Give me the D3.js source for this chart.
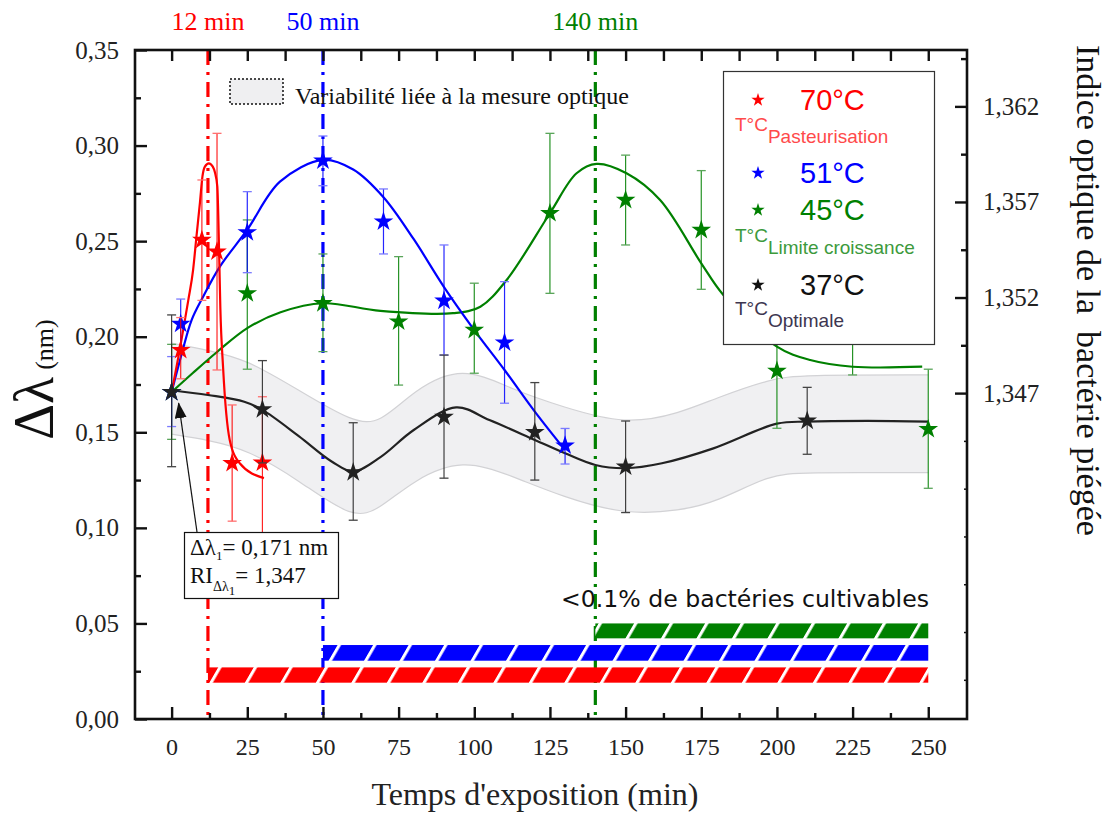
<!DOCTYPE html>
<html><head><meta charset="utf-8">
<script src="https://cdn.jsdelivr.net/npm/d3@7"></script>
<style>body{margin:0;background:#fff}svg{display:block}</style>
</head><body>
<svg id="c" width="1108" height="816"></svg>
<script>
// ---------- DATA ----------
// 37°C (optimal)
const t37  = [0, 30, 60, 90, 120, 150, 210];
const v37  = [0.171, 0.162, 0.129, 0.158, 0.150, 0.132, 0.156];
const lo37 = [0.132, 0.134, 0.104, 0.126, 0.125, 0.108, 0.1385];
const hi37 = [0.2114, 0.1875, 0.155, 0.1904, 0.176, 0.1559, 0.1735];
const fitT37 = [0, 12, 24, 30, 42, 53, 60, 69, 80, 94, 105, 120, 130, 140, 150, 162, 179, 200, 210, 230, 250];
const fitV37 = [0.172, 0.1695, 0.166, 0.1617, 0.148, 0.1346, 0.1295, 0.137, 0.1512, 0.163, 0.1564, 0.146, 0.139, 0.1329, 0.1312, 0.1338, 0.1416, 0.1545, 0.1556, 0.156, 0.1556];
// variability band (optical measurement)
const bandT  = [0, 12, 25, 42, 60, 69, 80, 96, 113, 129, 150, 168, 180, 198, 208, 250];
const bandHi = [0.1966, 0.193, 0.188, 0.172, 0.155, 0.1547, 0.172, 0.1852, 0.172, 0.1634, 0.1538, 0.160, 0.168, 0.178, 0.180, 0.180];
const bandLo = [0.149, 0.146, 0.141, 0.125, 0.1041, 0.1102, 0.125, 0.1364, 0.1268, 0.1163, 0.1067, 0.109, 0.1135, 0.1280, 0.1289, 0.1289];
// 70°C (pasteurisation)
const t70  = [3, 10, 15, 20, 30];
const v70  = [0.193, 0.2506, 0.2445, 0.1338, 0.1341];
const lo70 = [0.178, 0.219, 0.1826, 0.1035, 0.075];
const hi70 = [0.210, 0.282, 0.3064, 0.1643, 0.1686];
const fitT70 = [0, 3, 5.5, 7.1, 8.2, 9.35, 10.2, 11, 12.3, 13.6, 14.3, 15.1, 15.7, 16.1, 17, 19.2, 22.5, 30.5];
const fitV70 = [0.171, 0.196, 0.219, 0.235, 0.2523, 0.270, 0.284, 0.289, 0.2907, 0.289, 0.286, 0.2785, 0.2436, 0.215, 0.184, 0.146, 0.1338, 0.126];
// 51°C
const t51  = [0, 3, 25, 50, 70, 90, 110, 130];
const v51  = [0.171, 0.2067, 0.2546, 0.2921, 0.2602, 0.2188, 0.1969, 0.143];
const lo51 = [0.153, 0.194, 0.2335, 0.279, 0.2433, 0.1904, 0.1652, 0.1334];
const hi51 = [0.1896, 0.2197, 0.2759, 0.305, 0.2773, 0.248, 0.2288, 0.152];
const fitT51 = [0, 3.5, 6.6, 10.4, 16, 25, 35.8, 50, 60, 70, 80, 90, 100, 110, 120, 130];
const fitV51 = [0.171, 0.192, 0.2087, 0.2209, 0.2368, 0.256, 0.2811, 0.2925, 0.2875, 0.273, 0.251, 0.226, 0.2035, 0.1826, 0.1608, 0.1407];
// 45°C (growth limit)
const t45  = [0, 25, 50, 75, 100, 125, 150, 175, 200, 225, 250];
const v45  = [0.171, 0.2227, 0.2175, 0.2079, 0.2035, 0.2646, 0.2715, 0.2558, 0.1821, 0.21, 0.1516];
const lo45 = [0.1463, 0.183, 0.1922, 0.1747, 0.1809, 0.2227, 0.248, 0.2248, 0.1521, 0.18, 0.1207];
const hi45 = [0.196, 0.2611, 0.2433, 0.2419, 0.228, 0.3064, 0.295, 0.2869, 0.212, 0.24, 0.183];
const fitT45 = [0, 7, 15, 25, 36, 50, 69, 93, 102, 110.7, 125, 133.8, 140.4, 150.3, 161.4, 175, 182.3, 200, 211, 225, 248];
const fitV45 = [0.171, 0.181, 0.192, 0.2045, 0.2128, 0.2175, 0.2135, 0.2123, 0.2157, 0.2297, 0.2646, 0.2855, 0.2904, 0.2855, 0.2715, 0.2384, 0.2218, 0.1948, 0.1878, 0.1843, 0.1843];
// threshold times and "<0.1% cultivable" bars
const markTimes  = [12, 50, 140];
const markLabels = ["12 min", "50 min", "140 min"];
const barStart = [12, 50, 140];
const barEnd   = 250;
const barLow   = [0.019, 0.0305, 0.0422];
const barHigh  = [0.027, 0.0387, 0.050];
// axes
const xMajor = [0, 25, 50, 75, 100, 125, 150, 175, 200, 225, 250];
const xMinor = [12.5, 37.5, 62.5, 87.5, 112.5, 137.5, 162.5, 187.5, 212.5, 237.5];
const yMajor = [0, 0.05, 0.10, 0.15, 0.20, 0.25, 0.30, 0.35];
const yMinor = [0.025, 0.075, 0.125, 0.175, 0.225, 0.275, 0.325];
const riMajor = [1.347, 1.352, 1.357, 1.362];
const riMinor = [1.3495, 1.3545, 1.3595, 1.3645];
const riTiny  = [1.332, 1.3345, 1.337, 1.3395, 1.342, 1.3445];
const RI_REF = 1.347, DL_REF = 0.1705, RI_SLOPE = 0.1;
const annotDl = 0.171;

// ---------- SCALES ----------
const svg = d3.select("#c");
const L = 135, R = 967, T = 50, B = 719;
const x = d3.scaleLinear().domain([-12.1, 262.8]).range([L, R]);
const y = d3.scaleLinear().domain([0, 0.35]).range([B, T]);
const ri = d3.scaleLinear()
  .domain([RI_REF - DL_REF * RI_SLOPE, RI_REF + (0.35 - DL_REF) * RI_SLOPE])
  .range([B, T]);

const SERIF = "'Liberation Serif','Times New Roman',serif";
const SANS = "'Liberation Sans',Arial,sans-serif";
const C = {red: "#ff0000", blue: "#0000ff", green: "#008000", black: "#222222"};

const defs = svg.append("defs");
[["red", C.red], ["blue", C.blue], ["green", C.green]].forEach(([k, col]) => {
  const p = defs.append("pattern").attr("id", "h-" + k)
    .attr("patternUnits", "userSpaceOnUse").attr("width", 35.5).attr("height", 40)
    .attr("patternTransform", "skewX(-30)");
  p.append("rect").attr("width", 35.5).attr("height", 40).attr("fill", col);
  p.append("rect").attr("width", 3.5).attr("height", 40).attr("fill", "#fff");
});
defs.append("marker").attr("id", "arr").attr("markerUnits", "userSpaceOnUse")
  .attr("markerWidth", 16).attr("markerHeight", 12).attr("refX", 15).attr("refY", 6)
  .attr("orient", "auto")
  .append("path").attr("d", "M0,0 L16,6 L0,12 Z").attr("fill", "#111");

// ---------- BAND ----------
const band = bandT.map((t, i) => ({t, hi: bandHi[i], lo: bandLo[i]}));
const cr = d3.curveCatmullRom.alpha(0.5);
const cb = d3.curveBasis;
svg.append("path").datum(band)
  .attr("d", d3.area().x(d => x(d.t)).y0(d => y(d.lo)).y1(d => y(d.hi)).curve(cb))
  .attr("fill", "#f0f0f2");
["hi", "lo"].forEach(k => svg.append("path").datum(band)
  .attr("d", d3.line().x(d => x(d.t)).y(d => y(d[k])).curve(cb))
  .attr("fill", "none").attr("stroke", "#d2d2d5").attr("stroke-width", 1.2));

// ---------- VERTICAL MARK LINES ----------
const markCol = [C.red, C.blue, C.green];
markTimes.forEach((t, i) => {
  svg.append("line").attr("x1", x(t)).attr("x2", x(t)).attr("y1", T).attr("y2", B)
    .attr("stroke", markCol[i]).attr("stroke-width", 3.2)
    .attr("stroke-dasharray", "15,7,3,7");
  svg.append("text").attr("x", x(t)).attr("y", 30).attr("text-anchor", "middle")
    .attr("font-family", SERIF).attr("font-size", 26).attr("fill", markCol[i])
    .text(markLabels[i]);
});

// ---------- HATCHED BARS ----------
["red", "blue", "green"].forEach((k, i) => {
  svg.append("rect").attr("x", x(barStart[i])).attr("width", x(barEnd) - x(barStart[i]))
    .attr("y", y(barHigh[i])).attr("height", y(barLow[i]) - y(barHigh[i]))
    .attr("fill", `url(#h-${k})`);
});
svg.append("text").attr("x", 561).attr("y", 607)
  .attr("font-family", "'DejaVu Sans',Verdana,sans-serif").attr("font-size", 23.6).attr("fill", "#111")
  .text("<0.1% de bactéries cultivables");

// ---------- FITS ----------
function fit(ts, vs, col, curve) {
  svg.append("path").datum(ts.map((t, i) => [t, vs[i]]))
    .attr("d", d3.line().x(d => x(d[0])).y(d => y(d[1])).curve(curve))
    .attr("fill", "none").attr("stroke", col).attr("stroke-width", 2.2);
}
fit(fitT37, fitV37, C.black, cr);
fit(fitT45, fitV45, C.green, cr);
fit(fitT51, fitV51, C.blue, cr);
fit(fitT70, fitV70, C.red, d3.curveMonotoneX);

// ---------- ERROR BARS & STARS ----------
function series(ts, vs, lo, hi, col, capCol) {
  const g = svg.append("g");
  ts.forEach((t, i) => {
    g.append("line").attr("x1", x(t)).attr("x2", x(t)).attr("y1", y(lo[i])).attr("y2", y(hi[i]))
      .attr("stroke", col).attr("stroke-width", 1.2).attr("opacity", 0.85);
    [lo[i], hi[i]].forEach(v => g.append("line")
      .attr("x1", x(t) - 4.5).attr("x2", x(t) + 4.5).attr("y1", y(v)).attr("y2", y(v))
      .attr("stroke", capCol).attr("stroke-width", 1.3));
  });
  g.selectAll("path.s").data(ts).enter().append("path")
    .attr("d", d3.symbol(d3.symbolStar, 120)())
    .attr("transform", (t, i) => `translate(${x(t)},${y(vs[i])})`)
    .attr("fill", col);
}
series(t45, v45, lo45, hi45, C.green, "#5aa55a");
series(t51, v51, lo51, hi51, C.blue, "#7a7aff");
series(t70, v70, lo70, hi70, C.red, "#ff7070");
series(t37, v37, lo37, hi37, C.black, "#444");

// ---------- LEGEND (variability) ----------
svg.append("rect").attr("x", 230).attr("y", 79).attr("width", 53).attr("height", 25)
  .attr("fill", "#efeff1").attr("stroke", "#111").attr("stroke-width", 1.5).attr("stroke-dasharray", "2,2");
svg.append("text").attr("x", 295).attr("y", 104).attr("font-family", SERIF)
  .attr("font-size", 24).attr("fill", "#111").text("Variabilité liée à la mesure optique");

// ---------- LEGEND (series) ----------
svg.append("rect").attr("x", 723.5).attr("y", 71.5).attr("width", 211).attr("height", 273)
  .attr("fill", "#fff").attr("stroke", "#333").attr("stroke-width", 1.2);
const leg = [
  {col: C.red, sy: 100, lab: "70°C", sub: "Pasteurisation", subCol: "#ff4a4a", tb: 131},
  {col: C.blue, sy: 173, lab: "51°C"},
  {col: C.green, sy: 210, lab: "45°C", sub: "Limite croissance", subCol: "#3c9a3c", tb: 242},
  {col: "#111", sy: 285, lab: "37°C", sub: "Optimale", subCol: "#3d3650", tb: 315}
];
leg.forEach(d => {
  svg.append("path").attr("d", d3.symbol(d3.symbolStar, 55)())
    .attr("transform", `translate(758,${d.sy})`).attr("fill", d.col);
  svg.append("text").attr("x", 800).attr("y", d.sy + 10).attr("font-family", SANS)
    .attr("font-size", 29).attr("fill", d.col).text(d.lab);
  if (d.sub) {
    const tx = svg.append("text").attr("x", 735).attr("y", d.tb).attr("font-family", SANS)
      .attr("font-size", 19).attr("fill", d.subCol);
    tx.append("tspan").text("T°C");
    tx.append("tspan").attr("dy", 12).text(d.sub);
  }
});

// ---------- ANNOTATION ----------
svg.append("line").attr("x1", 197).attr("y1", 532).attr("x2", x(0) + 7).attr("y2", y(annotDl) + 11)
  .attr("stroke", "#111").attr("stroke-width", 1.2).attr("marker-end", "url(#arr)");
svg.append("rect").attr("x", 184.5).attr("y", 532.5).attr("width", 154).attr("height", 66)
  .attr("fill", "#fff").attr("stroke", "#111").attr("stroke-width", 1.2);
const a1 = svg.append("text").attr("x", 190).attr("y", 555).attr("font-family", SERIF)
  .attr("font-size", 23).attr("fill", "#111");
a1.append("tspan").text("Δλ");
a1.append("tspan").attr("font-size", 13).attr("dy", 5).text("1");
a1.append("tspan").attr("dy", -5).text("= 0,171 nm");
const a2 = svg.append("text").attr("x", 190).attr("y", 583).attr("font-family", SERIF)
  .attr("font-size", 23).attr("fill", "#111");
a2.append("tspan").text("RI");
a2.append("tspan").attr("font-size", 14).attr("dy", 8).text("Δλ");
a2.append("tspan").attr("font-size", 13).attr("dy", 4).text("1");
a2.append("tspan").attr("dy", -12).text("= 1,347");

// ---------- AXES ----------
const comma = f => v => f(v).replace(".", ",");
function styleAxis(g, fs) {
  g.select(".domain").remove();
  g.selectAll(".tick line").attr("stroke", "#111").attr("stroke-width", 2.4);
  g.selectAll(".tick text").attr("font-family", SERIF).attr("font-size", fs).attr("fill", "#222");
}
svg.append("g").attr("transform", `translate(0,${B})`)
  .call(d3.axisBottom(x).tickValues(xMajor).tickSize(-12).tickPadding(19).tickFormat(d3.format("d")))
  .call(g => styleAxis(g, 24));
svg.append("g").attr("transform", `translate(0,${B})`)
  .call(d3.axisBottom(x).tickValues(xMinor).tickSize(-6).tickFormat(""))
  .call(g => styleAxis(g, 24));
svg.append("g").attr("transform", `translate(0,${T})`)
  .call(d3.axisTop(x).tickValues(xMajor.concat(xMinor)).tickSize(-11).tickFormat(""))
  .call(g => styleAxis(g, 24));
svg.append("g").attr("transform", `translate(${L},0)`)
  .call(d3.axisLeft(y).tickValues(yMajor).tickSize(-12).tickPadding(16).tickFormat(comma(d3.format(".2f"))))
  .call(g => styleAxis(g, 25));
svg.append("g").attr("transform", `translate(${L},0)`)
  .call(d3.axisLeft(y).tickValues(yMinor).tickSize(-6).tickFormat(""))
  .call(g => styleAxis(g, 25));
svg.append("g").attr("transform", `translate(${R},0)`)
  .call(d3.axisRight(ri).tickValues(riMajor).tickSize(-12).tickPadding(16).tickFormat(comma(d3.format(".3f"))))
  .call(g => styleAxis(g, 25));
svg.append("g").attr("transform", `translate(${R},0)`)
  .call(d3.axisRight(ri).tickValues(riMinor).tickSize(-6).tickFormat(""))
  .call(g => styleAxis(g, 25));
svg.append("g").attr("transform", `translate(${R},0)`)
  .call(d3.axisRight(ri).tickValues(riTiny).tickSize(-3).tickFormat(""))
  .call(g => styleAxis(g, 25)).selectAll(".tick line").attr("stroke-width", 1.5);
svg.append("rect").attr("x", L).attr("y", T).attr("width", R - L).attr("height", B - T)
  .attr("fill", "none").attr("stroke", "#111").attr("stroke-width", 2.6);

// ---------- TITLES ----------
svg.append("text").attr("x", (x(0) + x(250)) / 2 - 15).attr("y", 805).attr("text-anchor", "middle")
  .attr("font-family", SERIF).attr("font-size", 32).attr("fill", "#222").text("Temps d'exposition (min)");
const yt = svg.append("text").attr("transform", "translate(53,440) rotate(-90)")
  .attr("font-family", SERIF).attr("fill", "#111");
yt.append("tspan").attr("font-size", 56).text("Δλ");
yt.append("tspan").attr("font-size", 26).attr("dx", 7).text("(nm)");
svg.append("text").attr("transform", "translate(1077,45) rotate(90)")
  .attr("font-family", SERIF).attr("font-size", 34).attr("fill", "#111")
  .style("white-space", "pre").text("Indice optique de la  bactérie piégée");
</script>
</body></html>
